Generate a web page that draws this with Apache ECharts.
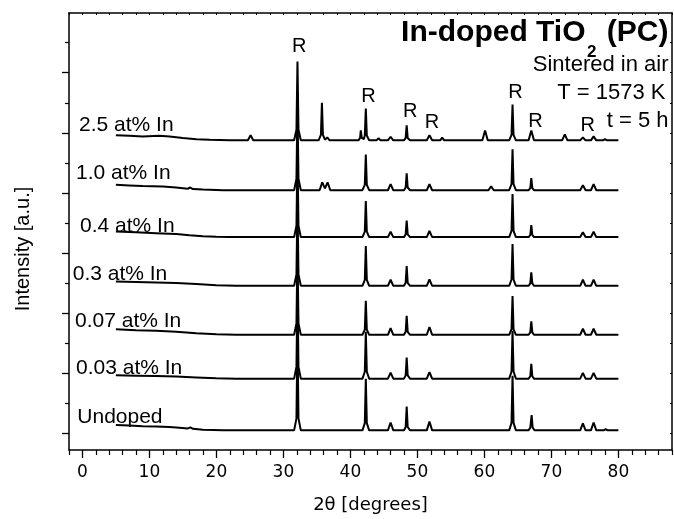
<!DOCTYPE html>
<html>
<head>
<meta charset="utf-8">
<script src="https://cdn.jsdelivr.net/npm/echarts@6/dist/echarts.min.js"></script>
<style>html,body{margin:0;padding:0;background:#fff}#c{width:674px;height:519px}</style>
</head>
<body>
<div id="c"></div>
<script>
// ---- data: [2θ (degrees), intensity above the trace baseline (a.u.)] ----
const sampleNames = ['Undoped', '0.03 at% In', '0.07 at% In', '0.3 at% In', '0.4 at% In', '1.0 at% In', '2.5 at% In'];
const traceOffsets = [1.0, 18.2, 32.8, 49.1, 65.3, 80.9, 97.5];

const undoped = [[5,1.8],[7,1.6],[9,1.4],[11,1.3],[13,1.1],[14.5,0.9],[15.7,0.6],[16.1,1.0],[16.5,0.5],[18,0.2],[21,0],
 [31.6,0],[31.95,4],[32.1,32],[32.25,4],[32.6,0],
 [41.8,0],[42.15,2.4],[42.3,17.2],[42.45,2.4],[42.8,0],
 [45.6,0],[46.0,2.6],[46.4,0],
 [48.0,0],[48.25,1.1],[48.4,7.9],[48.55,1.1],[48.9,0],
 [51.4,0],[51.8,2.9],[52.2,0],
 [63.7,0],[64.05,2.5],[64.2,18.2],[64.35,2.5],[64.7,0],
 [66.6,0],[66.85,0.9],[67.05,5.1],[67.2,0.9],[67.5,0],
 [74.3,0],[74.7,2.3],[75.1,0],
 [75.9,0],[76.3,2.6],[76.7,0],
 [77.8,0],[78.1,0.4],[78.4,0],[80,0]];

const in003 = [[5,1.1],[8,1.0],[11,0.9],[14,0.7],[17,0.4],[20,0.1],[23,0],
 [31.6,0],[31.95,4],[32.1,30],[32.25,4],[32.6,0],
 [41.8,0],[42.15,2.3],[42.3,15.6],[42.45,2.3],[42.8,0],
 [45.6,0],[46.0,2.0],[46.4,0],
 [48.0,0],[48.25,1.1],[48.4,7.0],[48.55,1.1],[48.9,0],
 [51.4,0],[51.8,2.2],[52.2,0],
 [63.7,0],[64.05,2.4],[64.2,15.9],[64.35,2.4],[64.7,0],
 [66.6,0],[66.85,0.8],[67.0,4.9],[67.15,0.8],[67.4,0],
 [74.3,0],[74.7,1.9],[75.1,0],
 [75.9,0],[76.3,1.9],[76.7,0],[80,0]];

const in007 = [[5,1.8],[8,1.5],[11,1.3],[14,1.0],[17,0.5],[20,0.2],[23,0],
 [31.6,0],[31.95,3.8],[32.1,28],[32.25,3.8],[32.6,0],
 [41.8,0],[42.15,1.7],[42.3,11.3],[42.45,1.7],[42.8,0],
 [45.6,0],[46.0,2.2],[46.4,0],
 [48.0,0],[48.25,1.0],[48.4,6.3],[48.55,1.0],[48.9,0],
 [51.4,0],[51.8,2.6],[52.2,0],
 [63.7,0],[64.05,1.9],[64.2,12.9],[64.35,1.9],[64.7,0],
 [66.6,0],[66.85,0.8],[67.0,4.5],[67.15,0.8],[67.4,0],
 [74.3,0],[74.7,2.0],[75.1,0],
 [75.9,0],[76.3,2.0],[76.7,0],[80,0]];

const in03 = [[5,1.4],[8,1.3],[11,1.1],[14,0.9],[17,0.6],[20,0.2],[23,0],
 [31.6,0],[31.95,3.8],[32.1,28],[32.25,3.8],[32.6,0],
 [41.8,0],[42.15,2.0],[42.3,13.2],[42.45,2.0],[42.8,0],
 [45.6,0],[46.0,2.0],[46.4,0],
 [48.0,0],[48.25,1.0],[48.4,6.6],[48.55,1.0],[48.9,0],
 [51.4,0],[51.8,2.1],[52.2,0],
 [63.7,0],[64.05,2.1],[64.2,13.9],[64.35,2.1],[64.7,0],
 [66.6,0],[66.85,0.8],[67.0,4.5],[67.15,0.8],[67.4,0],
 [74.3,0],[74.7,2.0],[75.1,0],
 [75.9,0],[76.3,2.0],[76.7,0],[80,0]];

const in04 = [[5,1.9],[8,1.6],[11,1.3],[14,1.0],[16,0.6],[18,0.3],[20,0.1],[22,0],
 [31.6,0],[31.95,3.8],[32.1,28],[32.25,3.8],[32.6,0],
 [41.8,0],[42.15,1.8],[42.3,12.0],[42.45,1.8],[42.8,0],
 [45.6,0],[46.0,1.8],[46.4,0],
 [48.0,0],[48.25,0.9],[48.4,5.5],[48.55,0.9],[48.9,0],
 [51.4,0],[51.8,2.1],[52.2,0],
 [63.7,0],[64.05,2.1],[64.2,14.3],[64.35,2.1],[64.7,0],
 [66.6,0],[66.85,0.7],[67.0,4.0],[67.15,0.7],[67.4,0],
 [74.3,0],[74.7,1.6],[75.1,0],
 [75.9,0],[76.3,1.8],[76.7,0],[80,0]];

const in10 = [[5,1.8],[7,1.6],[9,1.4],[12,1.2],[14,0.9],[15.7,0.5],[16.1,0.9],[16.5,0.4],[18,0.2],[21,0],
 [31.6,0],[31.95,3.8],[32.1,28],[32.25,3.8],[32.6,0],
 [35.4,0],[35.8,2.6],[36.2,0.6],[36.6,2.6],[37.0,0],
 [41.8,0],[42.15,1.8],[42.3,11.9],[42.45,1.8],[42.8,0],
 [45.6,0],[46.0,2.0],[46.4,0],
 [48.0,0],[48.25,0.9],[48.4,5.6],[48.55,0.9],[48.9,0],
 [51.4,0],[51.8,2.0],[52.2,0],
 [60.6,0],[61.0,1.3],[61.4,0],
 [63.7,0],[64.05,2.0],[64.2,13.6],[64.35,2.0],[64.7,0],
 [66.6,0],[66.85,0.7],[67.0,4.0],[67.15,0.7],[67.4,0],
 [74.3,0],[74.7,1.7],[75.1,0],
 [75.9,0],[76.3,2.0],[76.7,0],[80,0]];

const in25 = [[5,1.7],[7,1.5],[9,1.3],[11.5,1.5],[13,1.3],[15,0.8],[17,0.4],[19,0.2],[22,0],
 [24.7,0],[25.1,1.7],[25.5,0],
 [31.6,0],[31.95,3.5],[32.1,26.2],[32.25,3.5],[32.6,0],
 [35.25,0],[35.6,1.8],[35.75,12.5],[35.9,1.8],[36.2,0.2],[36.55,1.0],[36.9,0],
 [41.2,0],[41.45,0.8],[41.55,3.3],[41.7,0.8],[42.0,0.4],[42.15,1.6],[42.3,10.6],[42.45,1.6],[42.8,0],
 [43.9,0],[44.2,0.7],[44.5,0],
 [45.6,0],[46.0,1.2],[46.4,0],
 [48.0,0],[48.25,0.8],[48.4,5.0],[48.55,0.8],[48.9,0],
 [51.4,0],[51.8,1.7],[52.2,0],
 [53.4,0],[53.7,0.9],[54.0,0],
 [59.7,0],[60.1,3.3],[60.5,0],
 [63.7,0],[64.05,1.8],[64.2,11.9],[64.35,1.8],[64.7,0],
 [66.6,0],[67.0,3.3],[67.4,0],
 [71.6,0],[72.0,2.0],[72.4,0],
 [74.3,0],[74.7,1.0],[75.1,0],
 [75.9,0],[76.3,1.3],[76.7,0],
 [77.7,0],[78.0,0.4],[78.3,0],[80,0]];

const traces = [undoped, in003, in007, in03, in04, in10, in25];

// rutile peak markers "R": [2θ, y position in axis units]
const rutileMarks = [[32.38,128.8],[42.69,112.1],[48.92,107.1],[52.17,103.3],[64.62,113.3],[67.61,103.8],[75.43,102.5]];

const xMajorTicks = [0,10,20,30,40,50,60,70,80];
const xMinorTicks = [-2,2,4,6,8,12,14,16,18,22,24,26,28,32,34,36,38,42,44,46,48,52,54,56,58,62,64,66,68,72,74,76,78,82,84,86,88];
const xAllTicks = [-2,0,2,4,6,8,10,12,14,16,18,20,22,24,26,28,30,32,34,36,38,40,42,44,46,48,50,52,54,56,58,60,62,64,66,68,70,72,74,76,78,80,82,84,86,88];
const yMajorTicks = [0,20,40,60,80,100,120];
const yMinorTicks = [10,30,50,70,90,110,130];
const yAllTicks = [0,10,20,30,40,50,60,70,80,90,100,110,120,130];

const titleMain = 'In-doped TiO';
const titleSub = '2';
const titleEnd = '(PC)';
const infoLines = ['Sintered in air', 'T = 1573 K', 't = 5 h'];
const xName = '2\u03b8 [degrees]';
const yName = 'Intensity [a.u.]';

// ---- layout ----
const XMIN = -2, XMAX = 88, YMIN = -5.54, YMAX = 139.87;
const SANS = '"Liberation Sans", Arial, sans-serif';
const TICKF = '"DejaVu Sans", sans-serif';
const black = '#000';

const labelPos = [[77.3,417.5],[76,368.3],[75,321.7],[72.7,274.5],[80,226.7],[76,172.8],[79,125]];

const chart = echarts.init(document.getElementById('c'), null, {renderer:'canvas'});

const series = traces.map((t, i) => ({
  type: 'line',
  name: sampleNames[i],
  xAxisIndex: 0, yAxisIndex: 0,
  showSymbol: false,
  symbol: 'none',
  silent: true,
  lineStyle: {color: black, width: 2},
  data: t.map(p => [p[0], p[1] + traceOffsets[i]])
}));
series.push({
  type: 'scatter',
  xAxisIndex: 0, yAxisIndex: 0,
  symbolSize: 1,
  silent: true,
  itemStyle: {color: 'rgba(255,255,255,0)'},
  label: {show: true, position: 'inside', formatter: 'R', color: '#000', opacity: 1,
          textBorderWidth: 0, fontSize: 20, fontFamily: SANS},
  data: rutileMarks
});

const graphics = [];
sampleNames.forEach((n, i) => {
  graphics.push({type:'text', style:{text:n, x:labelPos[i][0], y:labelPos[i][1], font:'21px ' + SANS, fill:black, align:'left', verticalAlign:'middle'}});
});
graphics.push({type:'text', style:{text:titleMain, x:585.5, y:32.6, font:'bold 30px ' + SANS, fill:black, align:'right', verticalAlign:'middle'}});
graphics.push({type:'text', style:{text:titleSub, x:587, y:52.8, font:'bold 17px ' + SANS, fill:black, align:'left', verticalAlign:'middle'}});
graphics.push({type:'text', style:{text:titleEnd, x:668.5, y:32.6, font:'bold 30px ' + SANS, fill:black, align:'right', verticalAlign:'middle'}});
const infoPos = [[668.5,65],[665.5,92.5],[668.5,121]];
infoLines.forEach((s, i) => {
  graphics.push({type:'text', style:{text:s, x:infoPos[i][0], y:infoPos[i][1], font:'22px ' + SANS, fill:black, align:'right', verticalAlign:'middle'}});
});
graphics.push({type:'text', x:23, y:249, rotation:Math.PI/2, style:{text:yName, x:0, y:0, font:'20px ' + SANS, fill:black, align:'center', verticalAlign:'middle'}});

const axLine = {show:true, onZero:false, lineStyle:{color:black, width:1.5}};
const noLine = {show:false, onZero:false};
const option = {
  animation: false,
  backgroundColor: '#fff',
  grid: {left:69, right:2, top:13, bottom:67, containLabel:false},
  xAxis: [
    {type:'value', position:'bottom', min:XMIN, max:XMAX,
     axisLine: axLine,
     axisTick:{show:true, inside:false, length:8, customValues:xMajorTicks, lineStyle:{color:black, width:1.3}},
     axisLabel:{show:true, customValues:xMajorTicks, margin:14, color:black, fontSize:17, fontFamily:TICKF},
     splitLine:{show:false},
     name: xName, nameLocation:'middle', nameGap:46,
     nameTextStyle:{color:black, fontSize:18, fontFamily:TICKF}},
    {type:'value', position:'bottom', min:XMIN, max:XMAX,
     axisLine: noLine,
     axisTick:{show:true, inside:false, length:5, customValues:xMinorTicks, lineStyle:{color:black, width:1.2}},
     axisLabel:{show:false}, splitLine:{show:false}},
    {type:'value', position:'top', min:XMIN, max:XMAX,
     axisLine: axLine,
     axisTick:{show:true, inside:true, length:2, customValues:xAllTicks, lineStyle:{color:black, width:1}},
     axisLabel:{show:false}, splitLine:{show:false}}
  ],
  yAxis: [
    {type:'value', position:'left', min:YMIN, max:YMAX,
     axisLine: axLine,
     axisTick:{show:true, inside:false, length:7, customValues:yMajorTicks, lineStyle:{color:black, width:1.3}},
     axisLabel:{show:false}, splitLine:{show:false}},
    {type:'value', position:'left', min:YMIN, max:YMAX,
     axisLine: noLine,
     axisTick:{show:true, inside:false, length:4, customValues:yMinorTicks, lineStyle:{color:black, width:1.2}},
     axisLabel:{show:false}, splitLine:{show:false}},
    {type:'value', position:'right', min:YMIN, max:YMAX,
     axisLine: axLine,
     axisTick:{show:true, inside:true, length:2, customValues:yAllTicks, lineStyle:{color:black, width:1}},
     axisLabel:{show:false}, splitLine:{show:false}}
  ],
  series: series,
  graphic: graphics
};
chart.setOption(option);
</script>
</body>
</html>
